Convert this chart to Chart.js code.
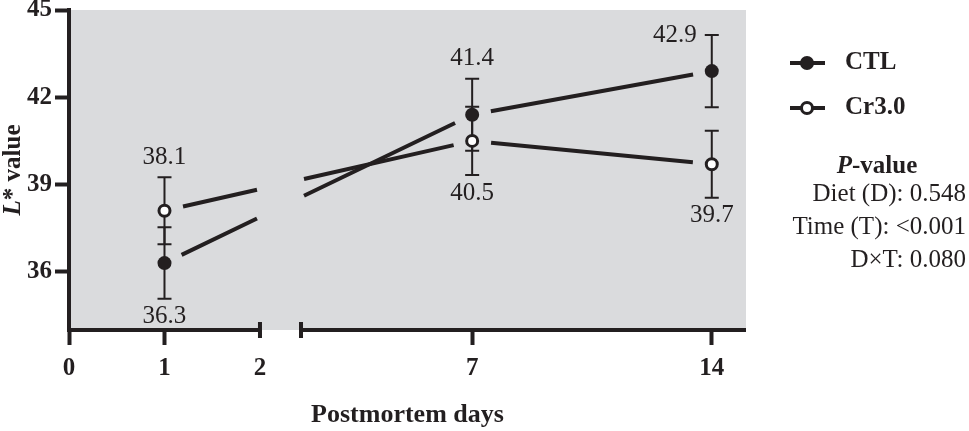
<!DOCTYPE html>
<html>
<head>
<meta charset="utf-8">
<title>L* value by postmortem day</title>
<script src="https://cdn.jsdelivr.net/npm/chart.js@4.4.1/dist/chart.umd.min.js"></script>
<style>
  html, body { margin: 0; padding: 0; background: #fff; }
  #wrap { position: relative; width: 969px; height: 431px; }
</style>
</head>
<body>
<div id="wrap"><canvas id="chart"></canvas></div>
<script>
'use strict';

// ── Data ────────────────────────────────────────────────────────────
const DAYS     = [1, 7, 14];
const CTL_MEAN = [36.3, 41.4, 42.9];
const CTL_SEM  = [1.23, 1.24, 1.24];
const CR_MEAN  = [38.1, 40.5, 39.7];
const CR_SEM   = [1.15, 1.17, 1.15];
const X_TICKS  = [0, 1, 2, 7, 14];
const Y_TICKS  = [36, 39, 42, 45];
const P_LINES  = ['Diet (D): 0.548', 'Time (T): <0.001', 'D×T: 0.080'];

// where each value label sits relative to its error bar
const CTL_LABEL_SIDE = ['below', 'above', 'left'];
const CR_LABEL_SIDE  = ['above', 'below', 'below'];

// ── Look ────────────────────────────────────────────────────────────
const INK     = '#231f20';
const PLOT_BG = '#dadbdd';
const SERIF   = '"Liberation Serif", "Times New Roman", serif';
const MARKER_GAP = 19;   // px left open between a line and its marker
const BREAK_INSET = 3;   // px the lines stop short of the axis break

Chart.defaults.font.family = SERIF;
Chart.defaults.color = INK;

// ── Broken linear x scale (two segments, 0–2 and 2–15) ──────────────
class BrokenLinearScale extends Chart.LinearScale {
  static id = 'brokenLinear';

  breakPixels() {
    const b = this.options.axisBreak;
    const leftEnd = this.left + this.width * b.leftFrac;
    return [leftEnd, leftEnd + this.width * b.gapFrac];
  }

  getPixelForValue(value) {
    const at = this.options.axisBreak.at;
    const [l, r] = this.breakPixels();
    if (value <= at) return this.left + (value - this.min) / (at - this.min) * (l - this.left);
    return r + (value - at) / (this.max - at) * (this.right - r);
  }

  getValueForPixel(pixel) {
    const at = this.options.axisBreak.at;
    const [l, r] = this.breakPixels();
    if (pixel <= l) return this.min + (pixel - this.left) / (l - this.left) * (at - this.min);
    return at + (pixel - r) / (this.right - r) * (this.max - at);
  }
}
Chart.register(BrokenLinearScale);

// Dash pattern that leaves gaps at the markers and across the axis break
function segmentPattern(ctx) {
  const { p0, p1 } = ctx;
  const dx = p1.x - p0.x, dy = p1.y - p0.y;
  const len = Math.hypot(dx, dy);
  const [bl, br] = ctx.chart.scales.x.breakPixels();
  let pieces = [[MARKER_GAP, len - MARKER_GAP]];
  if (p0.x < bl && p1.x > br) {
    const a = (bl - BREAK_INSET - p0.x) / dx * len;
    const b = (br + BREAK_INSET - p0.x) / dx * len;
    pieces = [[MARKER_GAP, a], [b, len - MARKER_GAP]];
  }
  const dash = [];
  pieces.forEach(([s, e], i) => {
    if (i > 0) dash.push(s - pieces[i - 1][1]);
    dash.push(e - s);
  });
  dash.push(len + 1000);
  const period = dash.reduce((t, v) => t + v, 0);
  return { dash, offset: period - pieces[0][0] };
}

const lineSegment = {
  borderDash: ctx => segmentPattern(ctx).dash,
  borderDashOffset: ctx => segmentPattern(ctx).offset,
};

// ── Plugins ─────────────────────────────────────────────────────────
const plotBg = {
  id: 'plotBg',
  beforeDraw(chart) {
    const { ctx, chartArea: a } = chart;
    ctx.save();
    ctx.fillStyle = PLOT_BG;
    ctx.fillRect(a.left, a.top, a.right - a.left, a.bottom - a.top);
    ctx.restore();
  },
};

const errorBars = {
  id: 'errorBars',
  beforeDatasetsDraw(chart) {
    const { ctx } = chart;
    const y = chart.scales.y;
    ctx.save();
    ctx.strokeStyle = INK;
    ctx.lineWidth = 2;
    chart.data.datasets.forEach((ds, i) => {
      chart.getDatasetMeta(i).data.forEach((pt, j) => {
        const m = ds.data[j].y, e = ds.sem[j];
        const hi = y.getPixelForValue(m + e), lo = y.getPixelForValue(m - e);
        ctx.beginPath();
        ctx.moveTo(pt.x, hi); ctx.lineTo(pt.x, lo);
        ctx.moveTo(pt.x - 7, hi); ctx.lineTo(pt.x + 7, hi);
        ctx.moveTo(pt.x - 7, lo); ctx.lineTo(pt.x + 7, lo);
        ctx.stroke();
      });
    });
    ctx.restore();
  },
};

const valueLabels = {
  id: 'valueLabels',
  afterDatasetsDraw(chart) {
    const { ctx } = chart;
    const y = chart.scales.y;
    ctx.save();
    ctx.fillStyle = INK;
    ctx.font = `25px ${SERIF}`;
    ctx.textBaseline = 'middle';
    chart.data.datasets.forEach((ds, i) => {
      chart.getDatasetMeta(i).data.forEach((pt, j) => {
        const m = ds.data[j].y, e = ds.sem[j];
        const hi = y.getPixelForValue(m + e), lo = y.getPixelForValue(m - e);
        const txt = m.toFixed(1);
        const side = ds.labelSide[j];
        if (side === 'left') {
          ctx.textAlign = 'right';
          ctx.fillText(txt, pt.x - 15, hi);
        } else {
          ctx.textAlign = 'center';
          ctx.fillText(txt, pt.x, side === 'above' ? hi - 20 : lo + 18);
        }
      });
    });
    ctx.restore();
  },
};

const brokenAxis = {
  id: 'brokenAxis',
  afterDraw(chart) {
    const { ctx, chartArea: a } = chart;
    const [bl, br] = chart.scales.x.breakPixels();
    const yb = a.bottom;
    ctx.save();
    ctx.strokeStyle = INK;
    ctx.lineWidth = 4;
    ctx.beginPath();
    ctx.moveTo(a.left - 2, yb); ctx.lineTo(bl + 2, yb);
    ctx.moveTo(br - 2, yb); ctx.lineTo(a.right, yb);
    ctx.moveTo(bl, yb - 8); ctx.lineTo(bl, yb + 8);
    ctx.moveTo(br, yb - 8); ctx.lineTo(br, yb + 8);
    ctx.stroke();
    ctx.restore();
  },
};

function drawRuns(ctx, runs, x, y, align) {
  const widths = runs.map(([t, f]) => { ctx.font = f; return ctx.measureText(t).width; });
  const total = widths.reduce((s, w) => s + w, 0);
  let cx = align === 'center' ? x - total / 2 : x;
  ctx.textAlign = 'left';
  runs.forEach(([t, f], i) => {
    ctx.font = f;
    ctx.fillText(t, cx, y);
    cx += widths[i];
  });
}

const annotations = {
  id: 'annotations',
  afterDraw(chart) {
    const { ctx } = chart;
    const bold = `bold 25px ${SERIF}`;
    const boldIt = `italic bold 25px ${SERIF}`;
    ctx.save();
    ctx.fillStyle = INK;
    ctx.strokeStyle = INK;

    // y axis title, L in italics
    ctx.save();
    ctx.translate(20, 170);
    ctx.rotate(-Math.PI / 2);
    ctx.textBaseline = 'alphabetic';
    drawRuns(ctx, [['L', boldIt], ['* value', bold]], 0, 0, 'center');
    ctx.restore();

    // legend
    ctx.textBaseline = 'middle';
    chart.data.datasets.forEach((ds, i) => {
      const ly = 63 + i * 45;
      ctx.lineWidth = 4;
      ctx.beginPath();
      ctx.moveTo(790, ly); ctx.lineTo(825, ly);
      ctx.stroke();
      ctx.beginPath();
      ctx.arc(807, ly, ds.pointRadius, 0, Math.PI * 2);
      ctx.fillStyle = ds.pointBackgroundColor;
      ctx.fill();
      if (ds.pointBorderWidth) { ctx.lineWidth = ds.pointBorderWidth; ctx.stroke(); }
      ctx.fillStyle = INK;
      ctx.font = bold;
      ctx.textAlign = 'left';
      ctx.fillText(ds.label, 845, ly);
    });

    // P-values
    drawRuns(ctx, [['P', boldIt], ['-value', bold]], 877, 167, 'center');
    ctx.font = `25px ${SERIF}`;
    ctx.textAlign = 'right';
    P_LINES.forEach((t, i) => ctx.fillText(t, 966, 194 + i * 33));
    ctx.restore();
  },
};

// ── Chart ───────────────────────────────────────────────────────────
const tickFont = { family: SERIF, size: 25, weight: 'bold' };

new Chart(document.getElementById('chart'), {
  type: 'line',
  data: {
    datasets: [
      {
        label: 'CTL',
        data: DAYS.map((d, i) => ({ x: d, y: CTL_MEAN[i] })),
        sem: CTL_SEM,
        labelSide: CTL_LABEL_SIDE,
        borderColor: INK,
        borderWidth: 4,
        pointRadius: 7,
        pointBackgroundColor: INK,
        pointBorderWidth: 0,
        segment: lineSegment,
      },
      {
        label: 'Cr3.0',
        data: DAYS.map((d, i) => ({ x: d, y: CR_MEAN[i] })),
        sem: CR_SEM,
        labelSide: CR_LABEL_SIDE,
        borderColor: INK,
        borderWidth: 4,
        pointRadius: 5.5,
        pointBackgroundColor: '#ffffff',
        pointBorderColor: INK,
        pointBorderWidth: 3,
        segment: lineSegment,
      },
    ],
  },
  options: {
    responsive: true,
    maintainAspectRatio: false,
    animation: false,
    events: [],
    layout: { padding: { top: 10, right: 223, bottom: 0, left: 0 } },
    plugins: { legend: { display: false }, tooltip: { enabled: false } },
    scales: {
      x: {
        type: 'brokenLinear',
        min: 0,
        max: 15,
        axisBreak: { at: 2, leftFrac: 0.2821, gapFrac: 0.0606 },
        afterBuildTicks: s => { s.ticks = X_TICKS.map(v => ({ value: v })); },
        afterFit: s => { s.height = 101; s.paddingLeft = 0; s.paddingRight = 0; },
        border: { display: false },
        grid: {
          drawOnChartArea: false,
          tickLength: 15,
          tickWidth: 4,
          tickColor: ctx => (ctx.tick && ctx.tick.value === 2 ? 'rgba(0,0,0,0)' : INK),
        },
        ticks: { font: tickFont, color: INK, padding: 9, autoSkip: false, maxRotation: 0 },
        title: {
          display: true,
          text: 'Postmortem days',
          font: { family: SERIF, size: 26, weight: 'bold' },
          color: INK,
          padding: { top: 0, bottom: 0 },
        },
      },
      y: {
        type: 'linear',
        min: 34,
        max: 45,
        afterBuildTicks: s => { s.ticks = Y_TICKS.map(v => ({ value: v })); },
        afterFit: s => { s.width = 69; s.paddingTop = 0; s.paddingBottom = 0; },
        border: { display: true, color: INK, width: 4 },
        grid: { drawOnChartArea: false, tickLength: 14, tickWidth: 4, tickColor: INK },
        ticks: { font: tickFont, color: INK, padding: 3 },
      },
    },
  },
  plugins: [plotBg, errorBars, valueLabels, brokenAxis, annotations],
});
</script>
</body>
</html>
